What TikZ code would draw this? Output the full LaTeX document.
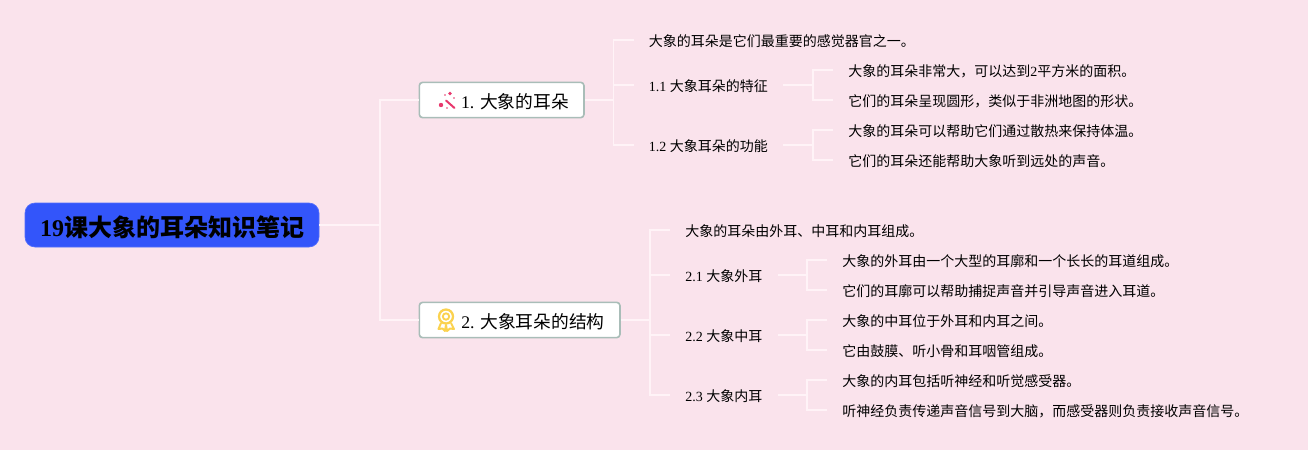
\documentclass[tikz,border=0pt]{standalone}
\usepackage{fontspec}
\setmainfont{Liberation Serif}
\newfontfamily\cjk{Noto Sans CJK SC}
\usepackage{xcolor}
\usepackage{tikz}
\usetikzlibrary{calc}
\definecolor{pagepink}{HTML}{FAE3EC}
\definecolor{rootblue}{HTML}{3355FA}
\definecolor{topicline}{HTML}{A9BDB8}
\definecolor{branchline}{HTML}{FFF3F7}
\definecolor{wandpink}{HTML}{E8386D}
\definecolor{medalgold}{HTML}{FBD24F}
\begin{document}
\begin{tikzpicture}[x=0.75pt,y=-0.75pt,
	root_node/.style={rectangle,rounded corners=7.5pt,fill=rootblue,draw=rootblue!85!white,line width=0.5pt,minimum width=220.5pt,minimum height=33pt,inner sep=0pt,text height=17.6pt,text depth=1pt,font=\fontsize{18}{20}\selectfont\bfseries},
	topic_node/.style={rectangle,rounded corners=2.5pt,fill=white,draw=topicline,line width=1.2pt,minimum height=26.5pt,inner sep=0pt,text height=14pt,text depth=0.8pt,font=\fontsize{13.3}{16}\selectfont,anchor=west},
	leaf_node/.style={inner xsep=11.25pt,inner ysep=0pt,text height=10.5pt,text depth=1pt,font=\fontsize{10.5}{12}\selectfont,anchor=west},
	branch/.style={draw=branchline,line width=1pt}]
	\useasboundingbox[fill=pagepink] (0,0) rectangle (1308,450);

	\node[root_node] (r) at (172,225) {19{\cjk 课大象的耳朵知识笔记}};
	\node[topic_node,minimum width=123.5pt] (t1) at (418.5,100) {\hspace{20pt}1. {\cjk 大象的耳朵}};
	\node[topic_node,minimum width=150.5pt] (t2) at (418.5,320) {\hspace{20pt}2. {\cjk 大象耳朵的结构}};

	\node[leaf_node] (a0) at (633.5,40) {\cjk 大象的耳朵是它们最重要的感觉器官之一。};
	\node[leaf_node] (a1) at (633.5,85) {1.1 {\cjk 大象耳朵的特征}};
	\node[leaf_node] (a2) at (633.5,145) {1.2 {\cjk 大象耳朵的功能}};
	\node[leaf_node] (a11) at (833,70) {{\cjk 大象的耳朵非常大，可以达到}2{\cjk 平方米的面积。}};
	\node[leaf_node] (a12) at (833,100) {\cjk 它们的耳朵呈现圆形，类似于非洲地图的形状。};
	\node[leaf_node] (a21) at (833,130) {\cjk 大象的耳朵可以帮助它们通过散热来保持体温。};
	\node[leaf_node] (a22) at (833,160) {\cjk 它们的耳朵还能帮助大象听到远处的声音。};

	\node[leaf_node] (b0) at (670,230) {\cjk 大象的耳朵由外耳、中耳和内耳组成。};
	\node[leaf_node] (b1) at (670,275) {2.1 {\cjk 大象外耳}};
	\node[leaf_node] (b2) at (670,335) {2.2 {\cjk 大象中耳}};
	\node[leaf_node] (b3) at (670,395) {2.3 {\cjk 大象内耳}};
	\node[leaf_node] (b11) at (827,260) {\cjk 大象的外耳由一个大型的耳廓和一个长长的耳道组成。};
	\node[leaf_node] (b12) at (827,290) {\cjk 它们的耳廓可以帮助捕捉声音并引导声音进入耳道。};
	\node[leaf_node] (b21) at (827,320) {\cjk 大象的中耳位于外耳和内耳之间。};
	\node[leaf_node] (b22) at (827,350) {\cjk 它由鼓膜、听小骨和耳咽管组成。};
	\node[leaf_node] (b31) at (827,380) {\cjk 大象的内耳包括听神经和听觉感受器。};
	\node[leaf_node] (b32) at (827,410) {\cjk 听神经负责传递声音信号到大脑，而感受器则负责接收声音信号。};

	\coordinate (c0) at (380,225);
	\coordinate (c1) at (613.5,100);
	\coordinate (c2) at (650,320);
	\coordinate (c11) at (813,85);
	\coordinate (c12) at (813,145);
	\coordinate (c21) at (807,275);
	\coordinate (c22) at (807,335);
	\coordinate (c23) at (807,395);

	\draw[branch] (r.east) -- (c0) (c0) |- (t1.west) (c0) |- (t2.west);
	\draw[branch] (t1.east) -- (c1) (c1) |- (a0.west) (c1) |- (a1.west) (c1) |- (a2.west);
	\draw[branch] (t2.east) -- (c2) (c2) |- (b0.west) (c2) |- (b1.west) (c2) |- (b2.west) (c2) |- (b3.west);
	\draw[branch] (a1.east) -- (c11) (c11) |- (a11.west) (c11) |- (a12.west);
	\draw[branch] (a2.east) -- (c12) (c12) |- (a21.west) (c12) |- (a22.west);
	\draw[branch] (b1.east) -- (c21) (c21) |- (b11.west) (c21) |- (b12.west);
	\draw[branch] (b2.east) -- (c22) (c22) |- (b21.west) (c22) |- (b22.west);
	\draw[branch] (b3.east) -- (c23) (c23) |- (b31.west) (c23) |- (b32.west);

	% wand
	\draw[wandpink,line width=1.5pt,line cap=round] (446,100.5) -- (454.5,108);
	\fill[wandpink] (441,105) circle (2.2);
	\fill[wandpink] (450,93.5) circle (1.9);
	\fill[wandpink] (445,95) circle (0.9);
	\fill[wandpink] (454,98) circle (0.9);
	\fill[wandpink] (447,108) circle (0.9);
	% medal
	\draw[medalgold,line width=1.7pt] (446,316.5) circle (7);
	\draw[medalgold,line width=1.4pt] (446,316.5) circle (3.2);
	\draw[medalgold,line width=1.5pt,line join=round] (441,323) -- (438.5,329) -- (442.5,328.5) -- (445,331) -- (446,325) -- (447,331) -- (450,328.5) -- (454,329) -- (451,323);
\end{tikzpicture}
\end{document}
